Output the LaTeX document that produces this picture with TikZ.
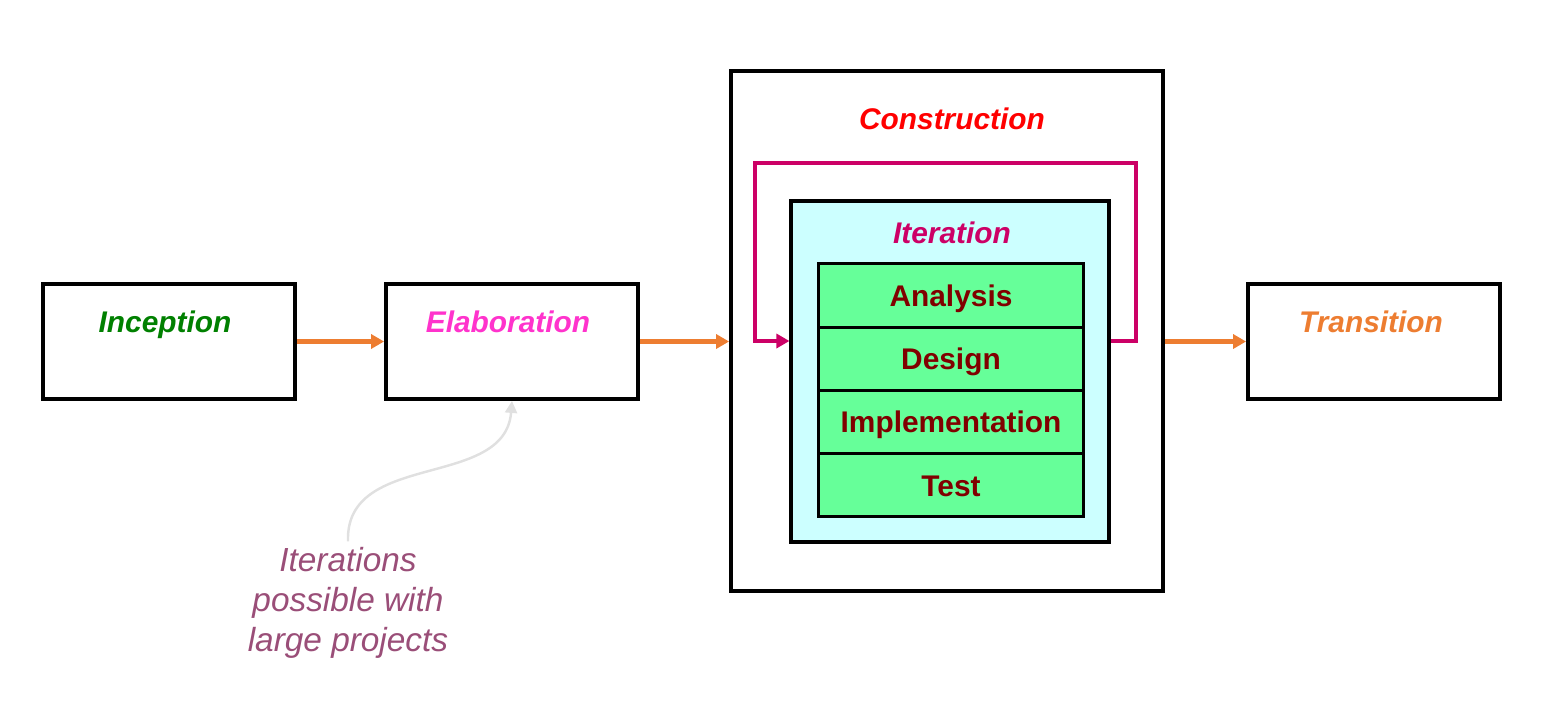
\documentclass[tikz,border=0pt]{standalone}
\usepackage{fontspec}
\setmainfont{Liberation Sans}
\usetikzlibrary{arrows.meta, positioning, calc}

\definecolor{inceptgreen}{HTML}{008000}
\definecolor{elabpink}{HTML}{FF33CC}
\definecolor{iterred}{HTML}{CC0066}
\definecolor{transorange}{HTML}{ED7D31}
\definecolor{celltext}{HTML}{800000}
\definecolor{cellfill}{HTML}{66FF99}
\definecolor{iterfill}{HTML}{CCFFFF}
\definecolor{notecolor}{HTML}{9A4E78}
\definecolor{notegray}{HTML}{E0E0E0}

\begin{document}
\begin{tikzpicture}[
    x=0.02cm, y=-0.02cm,
    % Phase boxes
    phasebox/.style={draw, line width=2.2pt, minimum width=5.04cm, minimum height=2.3cm},
    phase/.style={font=\fontsize{17}{20}\selectfont\bfseries\itshape,
                  text height=12.2pt, text depth=0pt},
    % Cells of the iteration
    cell/.style={draw, line width=1.7pt, fill=cellfill, outer sep=0pt,
                 minimum width=5.32cm, minimum height=1.265cm,
                 text height=12.2pt, text depth=0pt,
                 text=celltext, font=\fontsize{17}{20}\selectfont\bfseries},
    % Arrows
    flow/.style={-{Triangle[length=2.6mm, width=2.8mm]}, transorange, line width=2.6pt},
    iterloop/.style={-{Triangle[length=2.6mm, width=2.8mm]}, iterred, line width=2.3pt},
    hint/.style={-{Triangle[length=2.4mm, width=2.4mm]}, notegray, line width=1.4pt}
]
\useasboundingbox (0,0) rectangle (1560,708);

% === PHASE BOXES ===
\node[phasebox] (incept) at (169,341.5) {};
\node[phasebox] (elab) at (512,341.5) {};
\node[draw, line width=2.2pt, minimum width=8.64cm, minimum height=10.4cm] (constr) at (947,331) {};
\node[phasebox] (trans) at (1374,341.5) {};

% Phase labels
\node[phase, text=inceptgreen] (inceptlbl) at (165,322) {Inception};
\node[phase, text=elabpink] (elablbl) at (508,322) {Elaboration};
\node[phase, text=red] (constrlbl) at (952,119) {Construction};
\node[phase, text=transorange] (translbl) at (1371,322) {Transition};

% === ITERATION ===
\node[draw, line width=1.8pt, fill=iterfill, minimum width=6.36cm, minimum height=6.82cm] (iter) at (950,371.5) {};
\node[phase, text=iterred] (iterlbl) at (952,233) {Iteration};

\node[cell] (analysis) at (951,295.6) {Analysis};
\node[cell, below=0pt of analysis] (design) {Design};
\node[cell, below=0pt of design] (impl) {Implementation};
\node[cell, below=0pt of impl] (test) {Test};

% Loop back round the iteration
\coordinate (loopout) at (iter.east |- 0,341);
\coordinate (loopin) at (iter.west |- 0,341);
\draw[iterloop] (loopout) -- (1136,341) -- (1136,163) -- (755,163) -- (755,341) -- (loopin);

% === FLOW ARROWS ===
\draw[flow] (incept) -- (elab);
\draw[flow] (elab.east) -- (elab.east -| constr.west);
\draw[flow] (trans.west -| constr.east) -- (trans.west);

% === NOTE ===
\node[align=center, text=notecolor, font=\fontsize{19}{22.7}\selectfont\itshape] (note) at (348,603)
    {Iterations\\possible with\\large projects};
\draw[hint] (note.north) .. controls (345,450) and (505,490) .. (elab.south);

\end{tikzpicture}
\end{document}
